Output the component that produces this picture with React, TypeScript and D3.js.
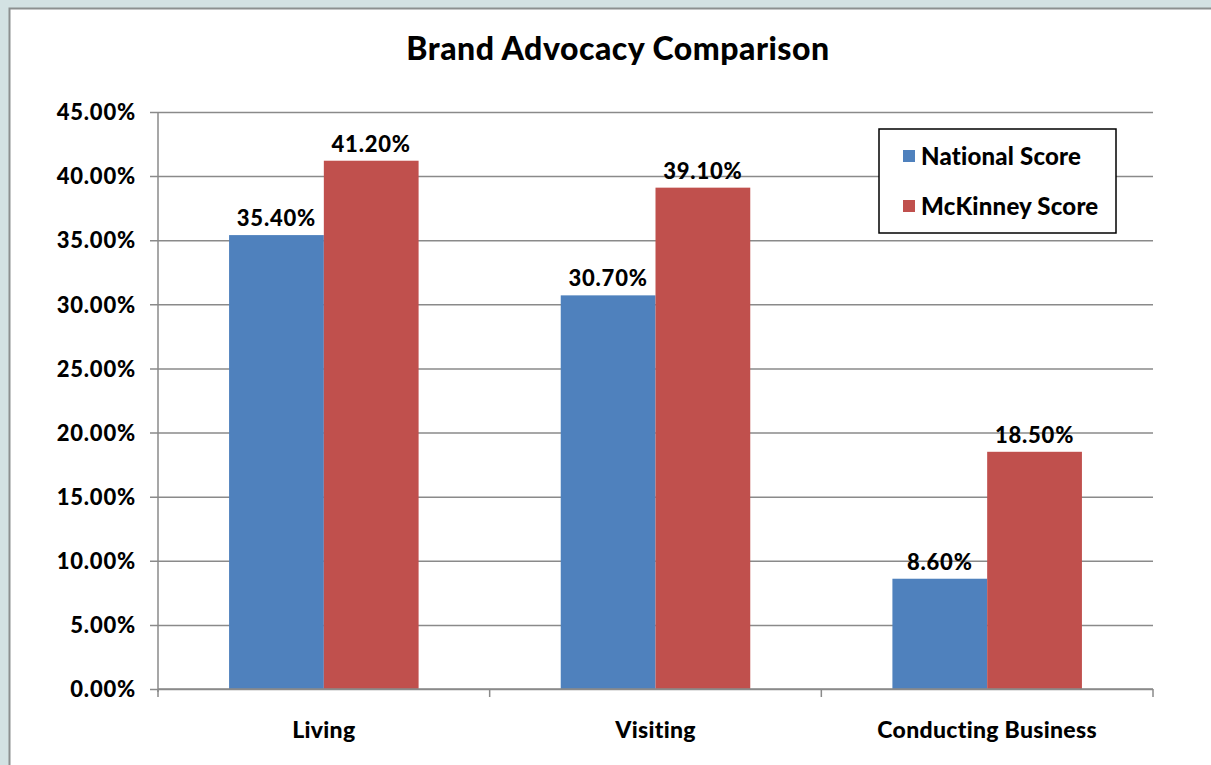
import React, { useEffect, useRef } from 'react';
import { select, scaleLinear, scaleBand, axisLeft, format } from 'd3';

const categories = ['Living', 'Visiting', 'Conducting Business'];
const seriesNames = ['National Score', 'McKinney Score'];
const nationalScore = [35.4, 30.7, 8.6];
const mckinneyScore = [41.2, 39.1, 18.5];
const seriesColors = ['#4f81bd', '#c0504d'];
const yTicks = [0, 5, 10, 15, 20, 25, 30, 35, 40, 45];

const FONT = '"Gill Sans MT", "Gill Sans", Lato, "Open Sans", sans-serif';
const WEIGHT = 900;

const App = () => {
  const svgRef = useRef<SVGSVGElement>(null);

  useEffect(() => {
    document.body.style.margin = '0';
    const width = 1211;
    const height = 765;
    const plot = { left: 158, right: 1153, top: 112, bottom: 689 };

    const svg = select(svgRef.current);
    svg.selectAll('*').remove();
    svg.attr('width', width).attr('height', height).style('display', 'block');

    // outer frame
    svg.append('rect').attr('width', width).attr('height', height).attr('fill', '#d3e2e3');
    svg.append('rect')
      .attr('x', 9.5).attr('y', 8.5)
      .attr('width', width).attr('height', height)
      .attr('fill', '#ffffff')
      .attr('stroke', '#8c9090')
      .attr('stroke-width', 2);

    const y = scaleLinear().domain([0, 45]).range([plot.bottom, plot.top]);
    const x0 = scaleBand().domain(categories).range([plot.left, plot.right]);
    // gap width 150% -> each bar is band / 3.5
    const barW = x0.bandwidth() / 3.5;
    const x1 = scaleBand().domain(seriesNames).range([0, barW * 2]);

    // gridlines + y axis
    const yAxis = axisLeft(y)
      .tickValues(yTicks)
      .tickSize(-(plot.right - plot.left))
      .tickPadding(22)
      .tickFormat(d => format('.2f')(d as number) + '%');

    const gy = svg.append('g')
      .attr('transform', `translate(${plot.left},0)`)
      .call(yAxis);
    gy.select('.domain').remove();
    gy.selectAll('.tick line').attr('stroke', '#8a8a8a').attr('stroke-width', 1.5).attr('x1', -8);
    gy.selectAll('.tick text')
      .attr('font-family', FONT)
      .attr('font-weight', WEIGHT)
      .attr('font-size', 22)
      .attr('letter-spacing', 0.8)
      .attr('fill', '#000')
      .attr('dy', '0.35em');

    svg.append('line')
      .attr('x1', plot.left).attr('x2', plot.left)
      .attr('y1', plot.top).attr('y2', plot.bottom + 3)
      .attr('stroke', '#8a8a8a').attr('stroke-width', 1.5);

    // bars
    const series = [nationalScore, mckinneyScore];
    series.forEach((vals, si) => {
      const g = svg.append('g');
      g.selectAll('rect')
        .data(vals)
        .enter().append('rect')
        .attr('x', (d, i) => (x0(categories[i]) as number) + barW * 0.75 + (x1(seriesNames[si]) as number))
        .attr('y', d => y(d))
        .attr('width', barW)
        .attr('height', d => plot.bottom - y(d))
        .attr('fill', seriesColors[si]);
      g.selectAll('text')
        .data(vals)
        .enter().append('text')
        .attr('x', (d, i) => (x0(categories[i]) as number) + barW * 0.75 + (x1(seriesNames[si]) as number) + barW / 2)
        .attr('y', d => y(d) - 9)
        .attr('text-anchor', 'middle')
        .attr('font-family', FONT)
        .attr('font-weight', WEIGHT)
        .attr('font-size', 22)
        .attr('letter-spacing', 0.8)
        .text(d => format('.2f')(d) + '%');
    });

    // x axis
    svg.append('line')
      .attr('x1', plot.left).attr('x2', plot.right)
      .attr('y1', plot.bottom).attr('y2', plot.bottom)
      .attr('stroke', '#8a8a8a').attr('stroke-width', 1.5);
    const xTicks = categories.map(c => x0(c) as number).concat([plot.right]);
    svg.selectAll('.xtick')
      .data(xTicks)
      .enter().append('line')
      .attr('x1', d => d).attr('x2', d => d)
      .attr('y1', plot.bottom).attr('y2', plot.bottom + 8)
      .attr('stroke', '#8a8a8a').attr('stroke-width', 1.5);
    svg.selectAll('.xlabel')
      .data(categories)
      .enter().append('text')
      .attr('x', d => (x0(d) as number) + x0.bandwidth() / 2)
      .attr('y', 738)
      .attr('text-anchor', 'middle')
      .attr('font-family', FONT)
      .attr('font-weight', WEIGHT)
      .attr('font-size', 23)
      .attr('letter-spacing', 0.3)
      .text(d => d);

    // title
    svg.append('text')
      .attr('x', 618)
      .attr('y', 60)
      .attr('text-anchor', 'middle')
      .attr('font-family', FONT)
      .attr('font-weight', WEIGHT)
      .attr('font-size', 32)
      .attr('letter-spacing', 0.5)
      .text('Brand Advocacy Comparison');

    // legend
    const legend = svg.append('g').attr('transform', 'translate(879,129)');
    legend.append('rect')
      .attr('width', 237).attr('height', 104)
      .attr('fill', '#fff')
      .attr('stroke', '#000').attr('stroke-width', 1.5);
    seriesNames.forEach((name, i) => {
      legend.append('rect')
        .attr('x', 24).attr('y', 21 + i * 50)
        .attr('width', 12).attr('height', 12)
        .attr('fill', seriesColors[i]);
      legend.append('text')
        .attr('x', 42).attr('y', 28 + i * 50)
        .attr('dy', '0.35em')
        .attr('font-family', FONT)
        .attr('font-weight', WEIGHT)
        .attr('font-size', 24)
        .attr('letter-spacing', 0.2)
        .text(name);
    });
  }, []);

  return <svg ref={svgRef}></svg>;
};

export default App;
